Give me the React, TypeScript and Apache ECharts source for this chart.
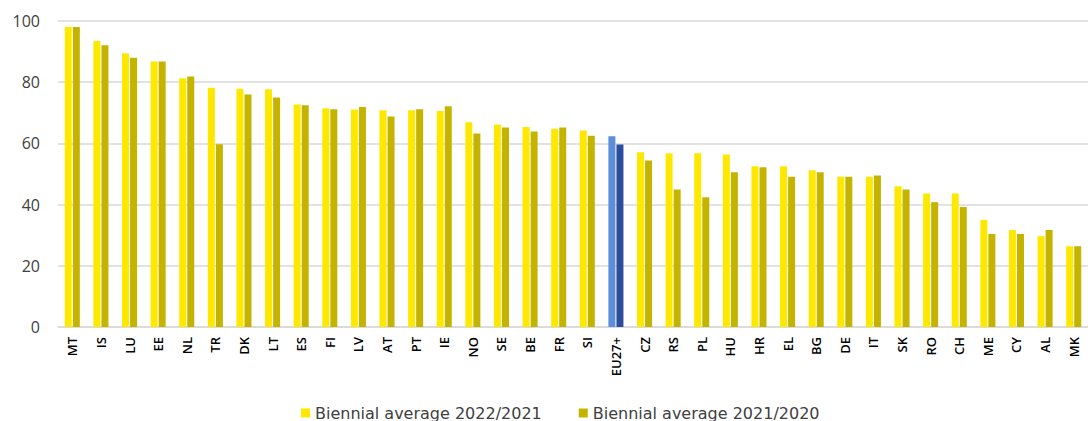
import React, { useEffect, useRef } from "react";
import * as echarts from "echarts";

const countries = [
  "MT", "IS", "LU", "EE", "NL", "TR", "DK", "LT", "ES", "FI", "LV", "AT",
  "PT", "IE", "NO", "SE", "BE", "FR", "SI", "EU27+", "CZ", "RS", "PL", "HU",
  "HR", "EL", "BG", "DE", "IT", "SK", "RO", "CH", "ME", "CY", "AL", "MK",
];

const avg2022_2021 = [
  98.0, 93.5, 89.5, 86.8, 81.3, 78.2, 77.9, 77.7, 72.7, 71.5, 71.1, 70.8,
  70.8, 70.6, 66.9, 66.2, 65.4, 64.8, 64.2, 62.3, 57.1, 56.8, 56.8, 56.4,
  52.5, 52.5, 51.2, 49.1, 49.1, 46.0, 43.6, 43.6, 35.0, 31.7, 29.7, 26.4,
];

const avg2021_2020 = [
  98.0, 92.1, 88.0, 86.8, 81.9, 59.7, 76.0, 75.0, 72.5, 71.2, 71.9, 68.8,
  71.2, 72.1, 63.2, 65.2, 63.9, 65.2, 62.5, 59.6, 54.4, 44.9, 42.4, 50.6,
  52.2, 49.1, 50.6, 49.1, 49.5, 44.9, 40.8, 39.2, 30.4, 30.4, 31.7, 26.4,
];

const yTicks = { min: 0, max: 100, interval: 20 };

const seriesNames = ["Biennial average 2022/2021", "Biennial average 2021/2020"];

const YELLOW = "#FFE800";
const OLIVE = "#C4B400";
const EU_LIGHT = "#5B8EDB";
const EU_DARK = "#2C4C9C";
const EU_KEY = "EU27+";

// The EU aggregate is shown in blue instead of the series colour.
function withHighlight(values: number[], color: string) {
  return values.map((v, i) =>
    countries[i] === EU_KEY ? { value: v, itemStyle: { color } } : v
  );
}

export default function App() {
  const ref = useRef<HTMLDivElement>(null);

  useEffect(() => {
    if (!ref.current) return;
    const chart = echarts.init(ref.current, undefined, { renderer: "svg" });
    chart.setOption({
      animation: false,
      backgroundColor: "#ffffff",
      grid: { left: 58, top: 21, width: 1037, height: 306, containLabel: false },
      legend: {
        top: 400,
        left: 296,
        itemWidth: 9,
        itemHeight: 9,
        itemGap: 37,
        icon: "rect",
        textStyle: { fontFamily: "DejaVu Sans", fontSize: 16, color: "#404040" },
        data: seriesNames,
      },
      xAxis: {
        type: "category",
        data: countries,
        axisTick: { show: false },
        axisLine: { lineStyle: { color: "#d9d9d9", width: 1.5 } },
        axisLabel: {
          rotate: 90,
          interval: 0,
          margin: 10,
          fontFamily: "Open Sans",
          fontWeight: 600,
          fontSize: 13,
          color: "#000000",
        },
      },
      yAxis: {
        type: "value",
        min: yTicks.min,
        max: yTicks.max,
        interval: yTicks.interval,
        axisLine: { show: false },
        axisTick: { show: false },
        splitLine: { lineStyle: { color: "#d9d9d9", width: 1.5 } },
        axisLabel: {
          margin: 18,
          fontFamily: "Open Sans",
          fontSize: 16,
          color: "#404040",
        },
      },
      series: [
        {
          name: seriesNames[0],
          type: "bar",
          barWidth: 7,
          barGap: "15%",
          itemStyle: { color: YELLOW },
          data: withHighlight(avg2022_2021, EU_LIGHT),
        },
        {
          name: seriesNames[1],
          type: "bar",
          barWidth: 7,
          barGap: "15%",
          itemStyle: { color: OLIVE },
          data: withHighlight(avg2021_2020, EU_DARK),
        },
      ],
    });
    return () => chart.dispose();
  }, []);

  return (
    <div
      ref={ref}
      style={{ position: "absolute", left: 0, top: 0, width: 1088, height: 421, overflow: "hidden" }}
    />
  );
}
